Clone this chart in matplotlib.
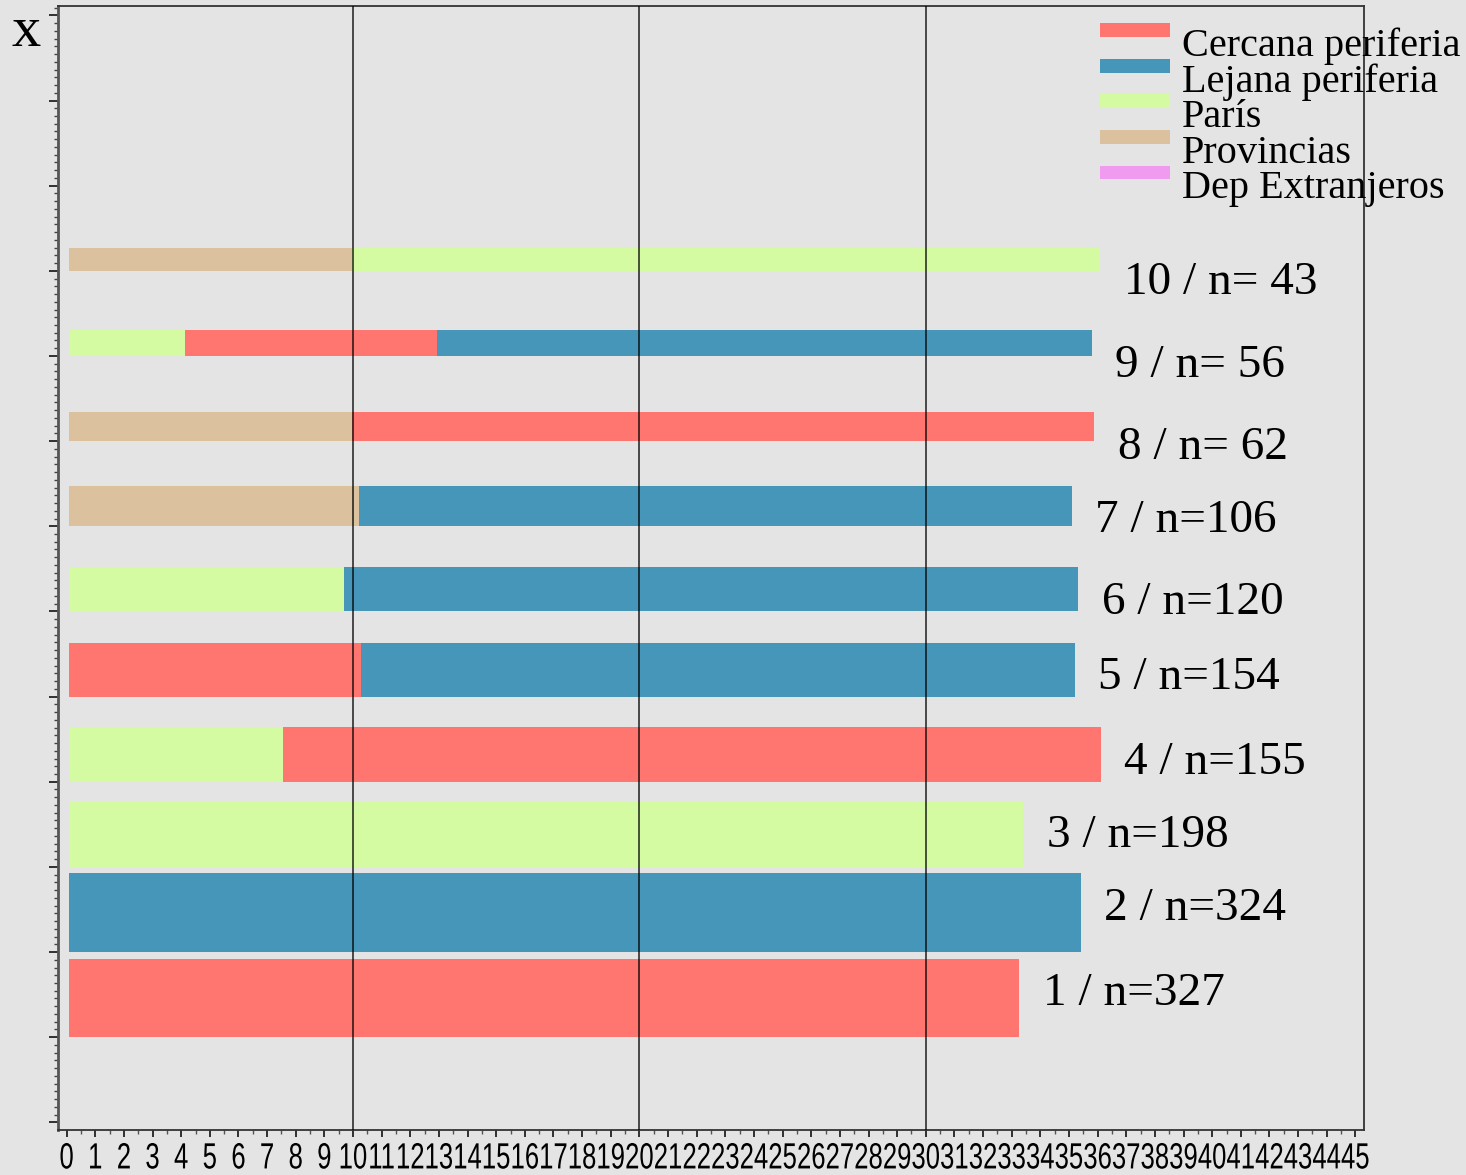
import matplotlib
matplotlib.use("Agg")
import matplotlib.pyplot as plt
import numpy as np
from matplotlib.patches import Rectangle, Patch
from matplotlib.legend_handler import HandlerPatch
from matplotlib.patheffects import AbstractPathEffect
from matplotlib.transforms import Affine2D
from matplotlib.ticker import MultipleLocator, NullFormatter

plt.rcParams['font.family'] = ['Liberation Sans', 'DejaVu Sans']

# groups from bottom (1) to top (10)
groups = [1, 2, 3, 4, 5, 6, 7, 8, 9, 10]
n_vals = [327, 324, 198, 155, 154, 120, 106, 62, 56, 43]
bar_heights = [0.92, 0.924, 0.778, 0.641, 0.634, 0.521, 0.478, 0.337, 0.305, 0.27]

# segment widths, stacked left to right in this order
provincias = [0, 0, 0, 0, 0, 0, 10.13, 9.90, 0, 9.90]
paris = [0, 0, 33.32, 7.47, 0, 9.60, 0, 0, 4.05, 26.11]
cercana = [33.18, 0, 0, 28.56, 10.20, 0, 0, 25.90, 8.80, 0]
lejana = [0, 35.33, 0, 0, 24.92, 25.65, 24.88, 0, 22.86, 0]
dep_ext = [0, 0, 0, 0, 0, 0, 0, 0, 0, 0]

ref_lines = [10, 20, 30]

c_cercana = '#ff7670'
c_lejana = '#4596b8'
c_paris = '#d4fba2'
c_prov = '#dbc19e'
c_dep = '#f09bf0'
bg = '#e4e4e4'


class Stretch(AbstractPathEffect):
    # narrow-looking tick digits: stretch glyphs vertically about the baseline
    def __init__(self, sy):
        super().__init__()
        self.sy = sy

    def draw_path(self, renderer, gc, tpath, affine, rgbFace=None):
        renderer.draw_path(gc, tpath, Affine2D().scale(1, self.sy) + affine, rgbFace)


fig = plt.figure(figsize=(14.66, 11.75), dpi=100, facecolor=bg)
ax = fig.add_axes([0.0396, 0.0383, 0.8908, 0.9566])
ax.set_facecolor(bg)

left = np.full(len(groups), 0.08)
for vals, col in [(provincias, c_prov), (paris, c_paris),
                  (cercana, c_cercana), (lejana, c_lejana), (dep_ext, c_dep)]:
    vals = np.array(vals)
    ax.barh(groups, vals, height=bar_heights, left=left, align='edge',
            color=col, edgecolor='none', zorder=2)
    left = left + vals

for g, n, h, end in zip(groups, n_vals, bar_heights, left):
    ax.text(end + 0.82, g + h - 0.415, f"{g} / n={n:3d}", ha='left', va='center',
            family='Liberation Serif', fontsize=34, zorder=4)

for v in ref_lines:
    ax.axvline(v, color='black', lw=1.2, alpha=0.8, zorder=3)

ax.set_xlim(-0.3, 45.3)
ax.set_ylim(-0.09, 13.11)
ax.set_xticks(range(0, 46))
ax.xaxis.set_minor_locator(MultipleLocator(0.5))
ax.yaxis.set_major_locator(MultipleLocator(1))
ax.yaxis.set_minor_locator(MultipleLocator(1 / 11))
ax.yaxis.set_major_formatter(NullFormatter())
ax.tick_params(axis='x', which='major', length=5, width=1.1, labelsize=18.5, pad=9)
ax.tick_params(axis='x', which='minor', length=3, width=1.0, color='#555555')
ax.tick_params(axis='y', which='major', length=6.5, width=1.1)
ax.tick_params(axis='y', which='minor', length=3.2, width=1.0, color='#444444')
for lab in ax.get_xticklabels():
    lab.set_path_effects([Stretch(1.42)])
for s in ax.spines.values():
    s.set_color('#333333')
    s.set_linewidth(1.3)
ax.spines['left'].set_color('#555555')
ax.spines['left'].set_linewidth(2)

fig.text(12 / 1466, 1 - 46 / 1175, 'x', family='Liberation Serif', fontsize=42,
         va='baseline', ha='left')


def raised_patch(legend, orig_handle, xdescent, ydescent, width, height, fontsize):
    return Rectangle((-xdescent, 0.47 * fontsize), width, 0.34 * fontsize)


labels = ['Cercana periferia', 'Lejana periferia', 'París', 'Provincias', 'Dep Extranjeros']
colors = [c_cercana, c_lejana, c_paris, c_prov, c_dep]
handles = [Patch(facecolor=c, edgecolor='none') for c in colors]
leg = fig.legend(handles, labels, loc='upper left',
                 bbox_to_anchor=(1100 / 1466, 1 - 27 / 1175),
                 frameon=False, borderpad=0, borderaxespad=0,
                 handlelength=1.74, handleheight=0.7, handletextpad=0.3,
                 labelspacing=-0.04,
                 prop={'family': 'Liberation Serif', 'size': 29},
                 handler_map={Patch: HandlerPatch(patch_func=raised_patch)})

fig.savefig('out.png', dpi=100, facecolor=bg)
